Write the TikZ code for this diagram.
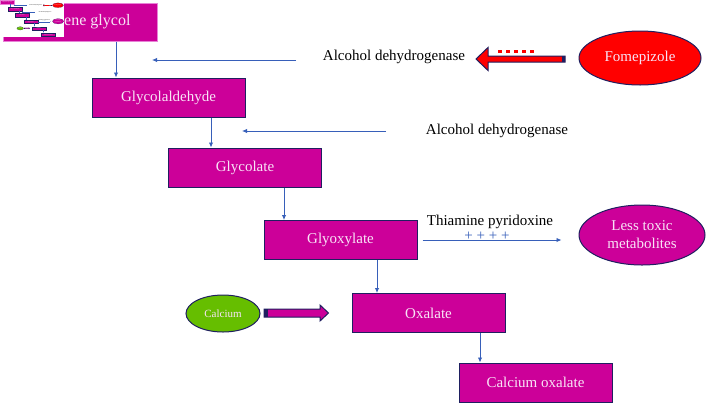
\documentclass[tikz,border=0pt]{standalone}
\usepackage{fontspec}
\setmainfont{Liberation Serif}
\usetikzlibrary{arrows.meta,shapes.geometric}
\definecolor{mag}{RGB}{204,0,153}
\definecolor{navy}{RGB}{31,31,96}
\definecolor{boxtext}{RGB}{248,228,246}
\definecolor{ablue}{RGB}{55,95,185}
\definecolor{lgreen}{RGB}{102,190,0}
\definecolor{pinkedge}{RGB}{232,130,215}
\def\lw{1}
\tikzset{
  box/.style={draw=navy, line width=\lw pt, fill=mag, minimum width=153pt, minimum height=39pt,
    inner sep=0pt, text=boxtext, font=\fontsize{15}{18}\selectfont},
  conn/.style={draw=ablue, line width=0.9*\lw pt, -{Latex[length=5pt,width=4.5pt,scale=\lw]}},
  lbl/.style={font=\fontsize{15}{18}\selectfont, inner sep=0pt},
  oval/.style={ellipse, draw=navy, line width=\lw pt, inner sep=0pt, text=boxtext, align=center,
    font=\fontsize{15}{18}\selectfont},
  blockarrow/.style={draw=navy, line width=\lw pt, line join=miter}
}
\newcommand\fulldiagram{%
  \node[box, draw=pinkedge, minimum width=154pt, minimum height=38pt, font=\fontsize{16}{19}\selectfont] (EG) at (80,22) {Ethylene glycol};
  \node[box] (GA) at (168.5,97.5) {Glycolaldehyde};
  \node[box] (GC) at (245,167.5) {Glycolate};
  \node[box] (GX) at (340.5,240) {Glyoxylate};
  \node[box] (OX) at (428.5,313) {Oxalate};
  \node[box] (CO) at (535.5,382.5) {Calcium oxalate};
  \node[oval, fill=red, minimum width=122pt, minimum height=54pt] (FO) at (640,58) {Fomepizole};
  \node[oval, fill=mag, minimum width=126pt, minimum height=60pt] (LT) at (642,235) {Less toxic\\metabolites};
  \node[oval, fill=lgreen, minimum width=74pt, minimum height=37pt, font=\fontsize{11}{13}\selectfont] (CA) at (223,313.5) {Calcium};
  \node[lbl] (AD1) at (394,57) {Alcohol dehydrogenase};
  \node[lbl] (AD2) at (497,131) {Alcohol dehydrogenase};
  \node[lbl] (TP) at (490,221.5) {Thiamine pyridoxine};
  \node[lbl, text=ablue] (PL) at (487,236) {+ + + +};
  % vertical connectors
  \draw[conn] ([xshift=36pt]EG.south) -- ([xshift=36pt]EG.south |- GA.north);
  \draw[conn] ([xshift=42.5pt]GA.south) -- ([xshift=42.5pt]GA.south |- GC.north);
  \draw[conn] ([xshift=39pt]GC.south) -- ([xshift=39pt]GC.south |- GX.north);
  \draw[conn] ([xshift=36.5pt]GX.south) -- ([xshift=36.5pt]GX.south |- OX.north);
  \draw[conn] ([xshift=51.5pt]OX.south) -- ([xshift=51.5pt]OX.south |- CO.north);
  % horizontal connectors
  \coordinate (h1a) at (296,60); \coordinate (h1b) at (152,60);
  \draw[conn] (h1a) -- (h1b);
  \coordinate (h2a) at (386,131); \coordinate (h2b) at (242,131);
  \draw[conn] (h2a) -- (h2b);
  \draw[conn] ([xshift=5pt]GX.east) -- ([xshift=-17pt]LT.west |- GX.east);
  % red block arrow (Fomepizole inhibits)
  \draw[blockarrow, fill=red] (565,56) -- (488,56) -- (488,47.5) -- (476,59) -- (488,70.5) -- (488,62) -- (565,62) -- cycle;
  \fill[navy] (561.5,56) rectangle (565,62);
  \foreach \dx in {0,8,16,24,32} {\fill[red] (498+\dx,50.4) rectangle (502+\dx,52.5);}
  % calcium block arrow
  \draw[blockarrow, fill=mag] (264,309) -- (320,309) -- (320,305) -- (328.5,313) -- (320,321) -- (320,317) -- (264,317) -- cycle;
  \fill[navy] (264,309) rectangle (268,317);
}
\begin{document}
\begin{tikzpicture}[x=1pt,y=-1pt]
  \useasboundingbox (0,0) rectangle (708,407);
  \fulldiagram
  \fill[white] (0,0) rectangle (64,36.8);
  \begin{scope}[scale=0.0905, transform shape]
    \def\lw{0.09}
    \fulldiagram
  \end{scope}
\end{tikzpicture}
\end{document}
